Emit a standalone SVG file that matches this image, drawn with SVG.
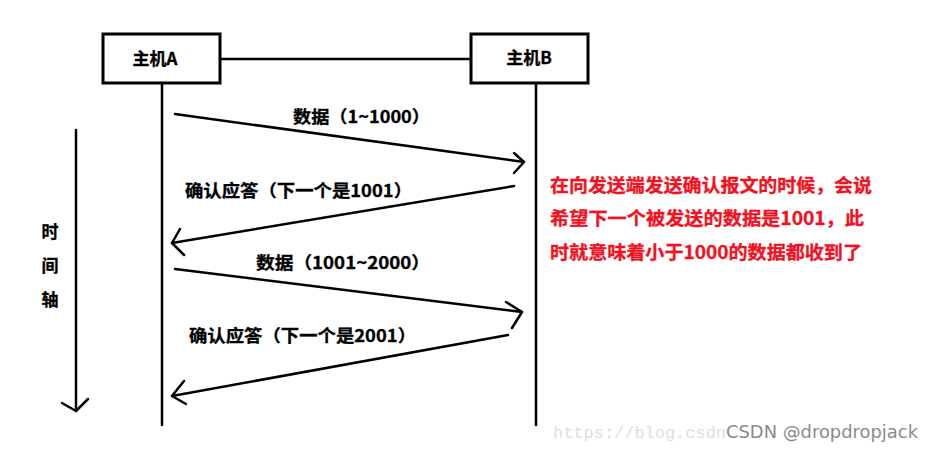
<svg xmlns="http://www.w3.org/2000/svg" width="935" height="452" viewBox="0 0 935 452">
<style>
.box{fill:#fff;stroke:#000;stroke-width:3}
.ln{fill:none;stroke:#000;stroke-width:2.5;stroke-linecap:round;stroke-linejoin:round}
.t{font-family:"Noto Sans CJK SC","Microsoft YaHei",sans-serif;font-weight:bold;font-size:17px;fill:#000;stroke:#000;stroke-width:0.3}
.r{font-family:"Noto Sans CJK SC",sans-serif;font-weight:bold;font-size:18px;fill:#f2111f;stroke:#f2111f;stroke-width:0.3}
</style>
<rect width="935" height="452" fill="#fff"/>
<g id="hostA">
<rect class="box" x="103" y="34" width="117" height="49"/>
<text class="t" x="155" y="65" text-anchor="middle" font-size="18">主机A</text>
</g>
<g id="hostB">
<rect class="box" x="471" y="34" width="117" height="49"/>
<text class="t" x="529" y="64" text-anchor="middle" font-size="18">主机B</text>
</g>
<g id="connectors">
<line class="ln" x1="220" y1="59" x2="471" y2="59" stroke-width="3"/>
<line class="ln" x1="162" y1="83" x2="162" y2="425" stroke-width="3"/>
<line class="ln" x1="536" y1="83" x2="536" y2="425" stroke-width="3"/>
<line class="ln" x1="175" y1="114" x2="524" y2="162"/>
<polyline class="ln" points="514,153 524,162 514,173"/>
<line class="ln" x1="514" y1="186" x2="172" y2="243"/>
<polyline class="ln" points="180,229 172,243 184,255"/>
<line class="ln" x1="175" y1="269" x2="522" y2="312"/>
<polyline class="ln" points="506,302 522,312 512,328"/>
<line class="ln" x1="508" y1="335" x2="172" y2="396"/>
<polyline class="ln" points="184,381 172,396 186,404"/>
<line class="ln" x1="76" y1="130" x2="76" y2="411" stroke-width="3"/>
<polyline class="ln" points="62,403 76,411 88,399"/>
</g>
<g id="labels">
<text class="t" x="293" y="123" textLength="137" lengthAdjust="spacingAndGlyphs">数据（1~1000）</text>
<text class="t" x="185" y="197" textLength="227" lengthAdjust="spacingAndGlyphs">确认应答（下一个是1001）</text>
<text class="t" x="256" y="269" textLength="174" lengthAdjust="spacingAndGlyphs">数据（1001~2000）</text>
<text class="t" x="189" y="342" textLength="227" lengthAdjust="spacingAndGlyphs">确认应答（下一个是2001）</text>
<text class="t" x="50" y="238" text-anchor="middle" font-size="18">时</text>
<text class="t" x="50" y="272" text-anchor="middle" font-size="18">间</text>
<text class="t" x="50" y="306" text-anchor="middle" font-size="18">轴</text>
</g>
<g id="note">
<text class="r" x="550" y="192" textLength="322" lengthAdjust="spacingAndGlyphs">在向发送端发送确认报文的时候，会说</text>
<text class="r" x="550" y="225" textLength="314" lengthAdjust="spacingAndGlyphs">希望下一个被发送的数据是1001，此</text>
<text class="r" x="550" y="259" textLength="312" lengthAdjust="spacingAndGlyphs">时就意味着小于1000的数据都收到了</text>
</g>
<g id="watermark">
<text x="553" y="438" font-family="Liberation Mono,monospace" font-size="17" fill="#e0e0da" textLength="173" lengthAdjust="spacingAndGlyphs">https://blog.csdn</text>
<text x="726" y="438" font-family="DejaVu Sans,sans-serif" font-size="17" fill="#8a8a8a" textLength="192" lengthAdjust="spacingAndGlyphs">CSDN @dropdropjack</text>
</g>
</svg>
